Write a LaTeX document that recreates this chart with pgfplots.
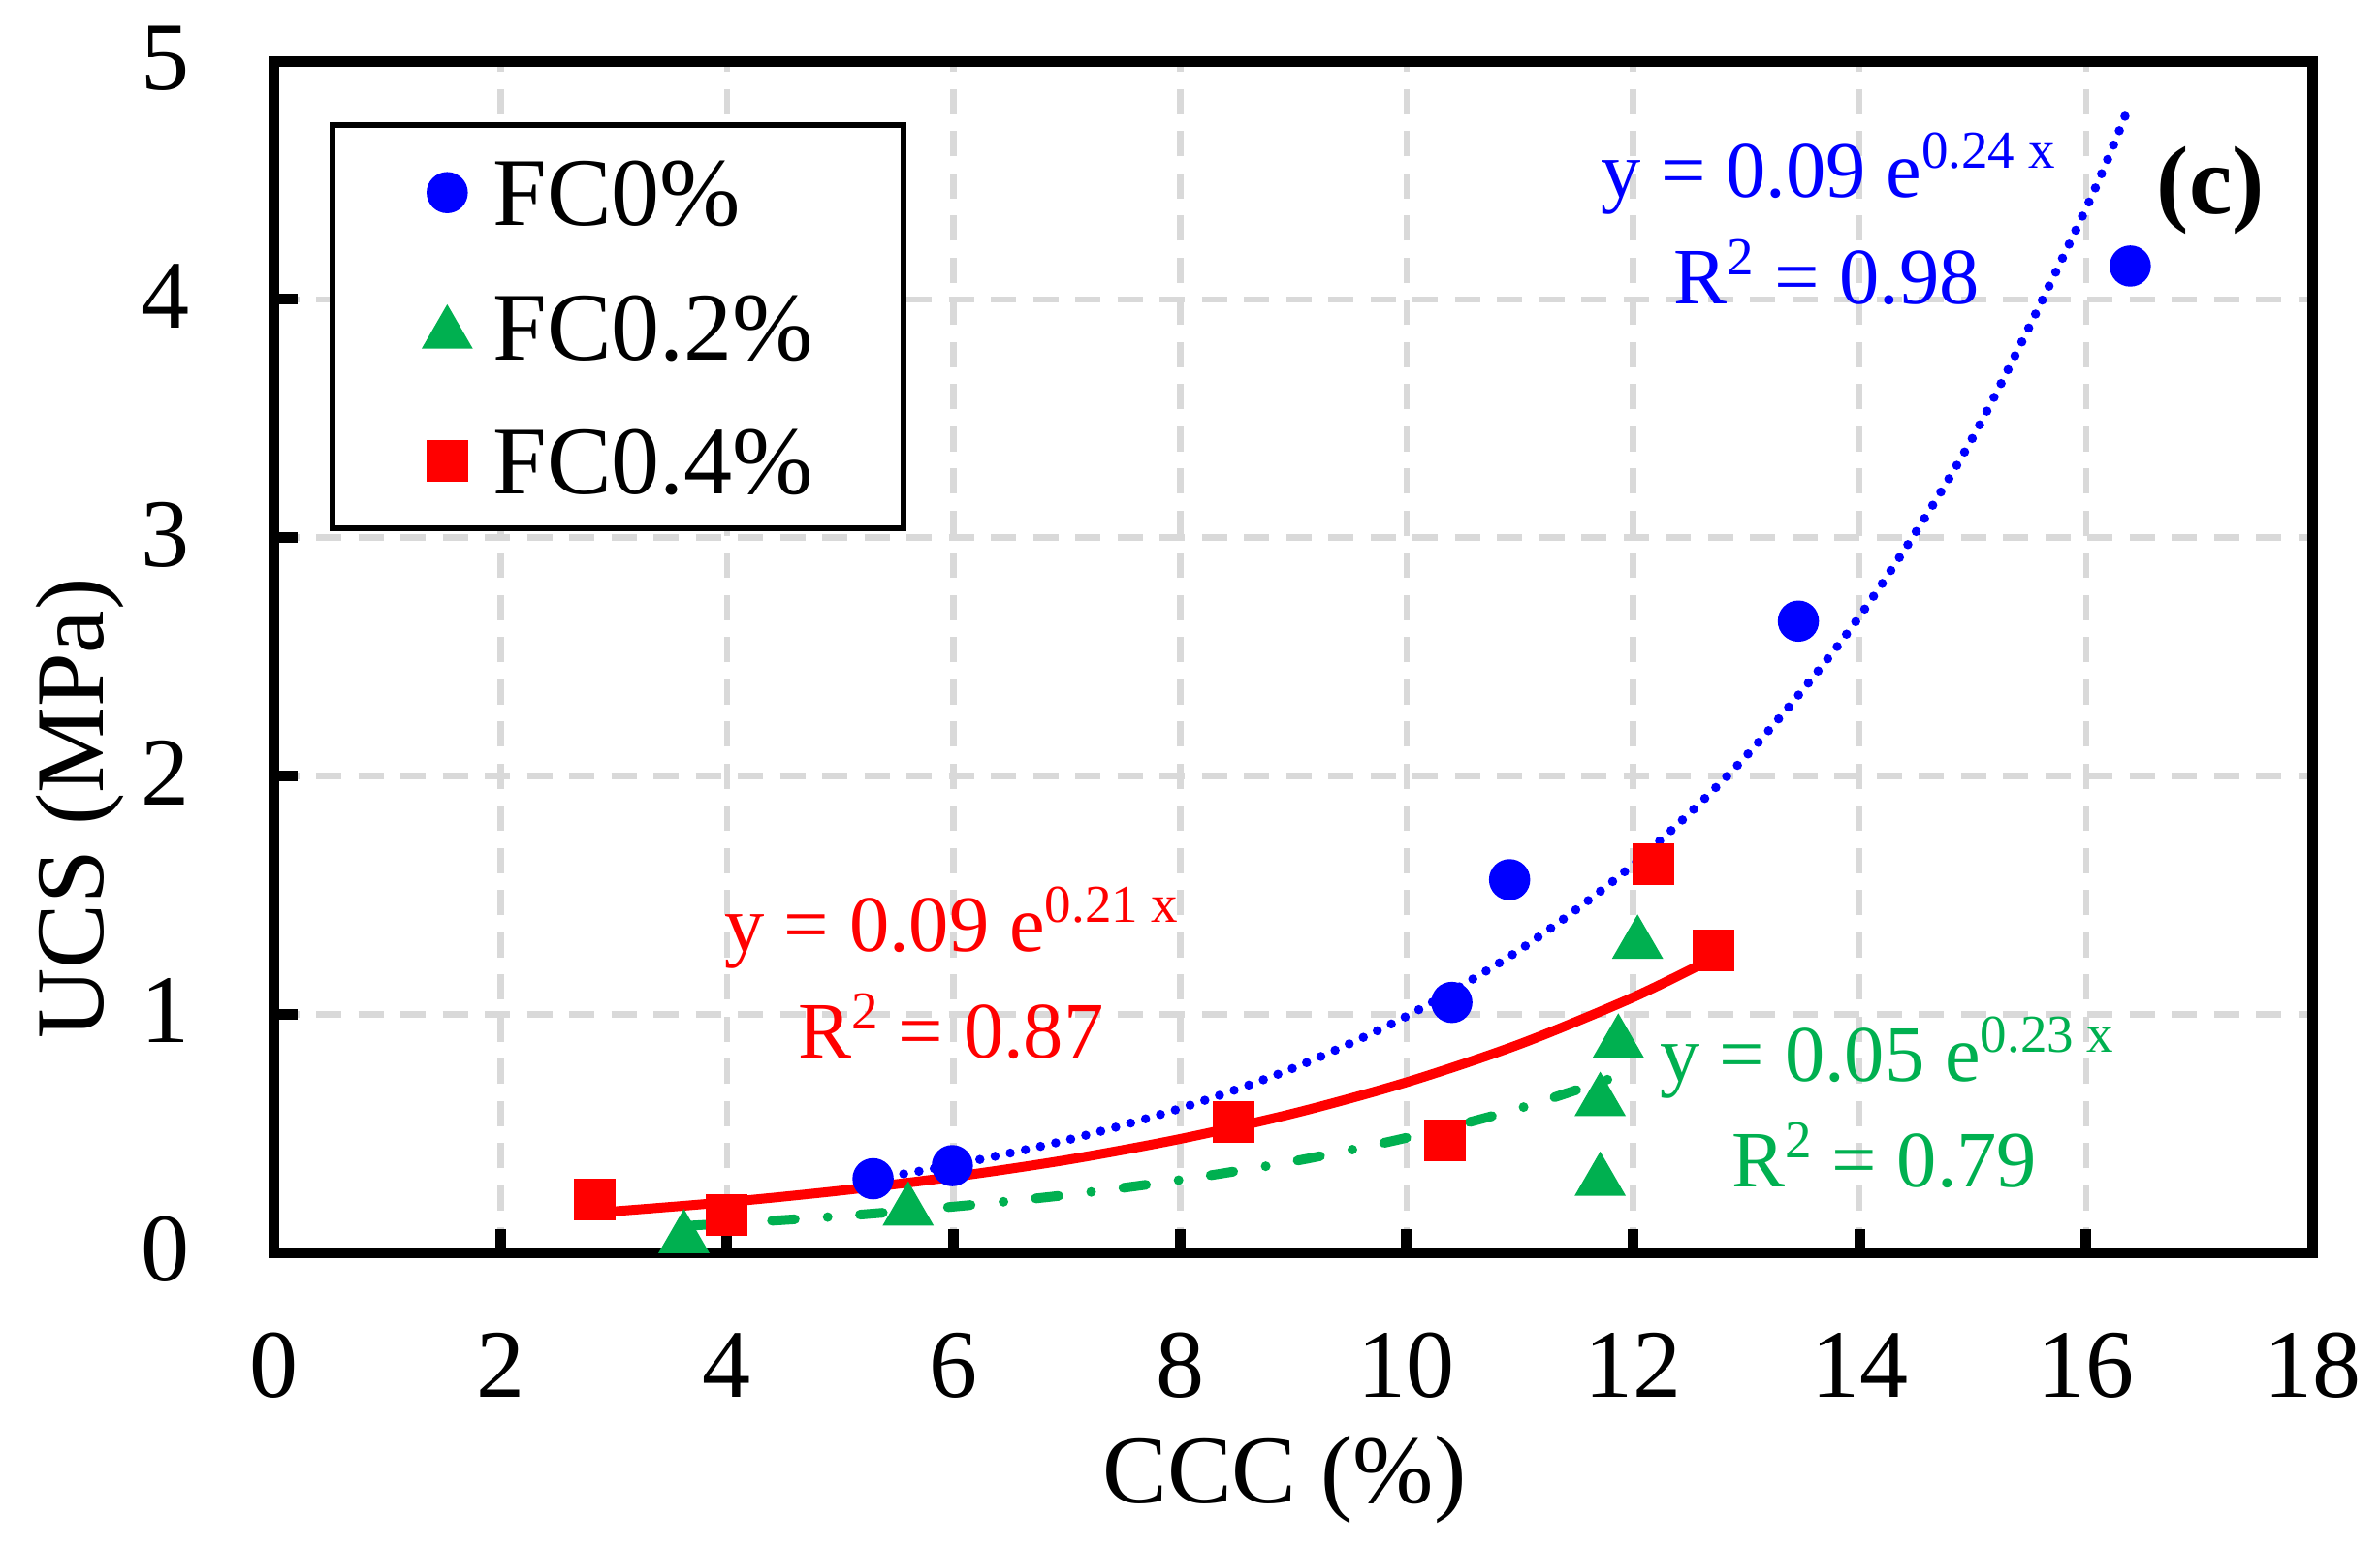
\documentclass[border=0pt]{standalone}
\usepackage{fontspec}
\setmainfont{Liberation Serif}
\usepackage{pgfplots}
\pgfplotsset{compat=1.18}
\definecolor{myblue}{RGB}{0,0,255}
\definecolor{mygreen}{RGB}{0,176,80}
\definecolor{myred}{RGB}{255,0,0}
\definecolor{mygrid}{RGB}{217,217,217}
\newcommand{\supx}[1]{\raisebox{6pt}{\fontsize{11}{12}\selectfont #1}}
\begin{document}
\begin{tikzpicture}
\begin{axis}[
  at={(0,0)}, anchor=south west,
  scale only axis, width=420.5pt, height=245.8pt,
  xmin=0, xmax=18, ymin=0, ymax=5,
  xtick={0,2,...,18}, ytick={0,1,...,5},
  tick pos=left, tick align=inside,
  major tick length=4.9pt,
  tick style={black, line width=2.2pt},
  axis line style={black, line width=2.2pt},
  grid=major,
  major grid style={mygrid, line width=1.33pt, dash pattern=on 5.2pt off 3.5pt},
  /pgf/number format/assume math mode=true,
  tick label style={font=\fontsize{20}{24}\selectfont, inner sep=0pt},
  xticklabel style={anchor=base, yshift=-29.8pt},
  yticklabel style={anchor=base east, xshift=-17.2pt, yshift=-5.9pt},
  xlabel={CCC (\%)}, ylabel={UCS (MPa)},
  label style={font=\fontsize{20}{24}\selectfont, inner sep=0pt},
  xlabel style={at={(axis description cs:0.4957,-0.2103)}, anchor=base},
  ylabel style={at={(axis description cs:-0.08395,0.373)}, anchor=base},
  clip=false,
  legend style={at={(axis description cs:0,1)}, anchor=north west, xshift=11.5pt, yshift=-12.6pt,
    draw=black, line width=1.25pt, inner xsep=18.6pt, inner ysep=7.1pt, row sep=14.1pt, column sep=4.4pt,
    font=\fontsize{20}{24}\selectfont, nodes={inner sep=0pt, text height=13.6pt, text depth=0pt}},
  legend cell align=left,
  legend image code/.code={\draw[#1] plot coordinates {(0pt,0pt)};},
]
\addplot[myblue, only marks, mark=*, mark size=4.1pt, mark options={solid, line width=0.3pt, fill=myblue, draw=myblue}] coordinates {
(5.29,0.31) (5.99,0.365) (10.40,1.05) (10.91,1.565) (13.46,2.65) (16.39,4.14)};
\addlegendentry{FC0\%}
\addplot[mygreen, only marks, mark=triangle*, mark size=5.8pt, mark options={solid, line width=0.3pt, fill=mygreen, draw=mygreen, yshift=-1.45pt}] coordinates {
(3.62,0.089) (5.60,0.205) (11.71,0.33) (11.71,0.665) (11.87,0.91) (12.04,1.325)};
\addlegendentry{FC0.2\%}
\addplot[myred, only marks, mark=square*, mark size=4.15pt, mark options={solid, line width=0.3pt, fill=myred, draw=myred}] coordinates {
(2.83,0.223) (4.00,0.159) (8.47,0.55) (10.34,0.47) (12.18,1.63) (12.71,1.27)};
\addlegendentry{FC0.4\%}
% trendlines
\addplot[forget plot, myblue, line width=1.9pt, line cap=round, dash pattern=on 0pt off 3.2pt, smooth] coordinates {
(5.29,0.309) (6,0.368) (7,0.472) (8,0.605) (9,0.774) (10,0.992) (11,1.271) (12,1.628) (13,2.085) (14,2.670) (15,3.421) (16,4.382) (16.39,4.826)};
\addplot[forget plot, myred, line width=2pt, smooth] coordinates {
(2.83,0.167) (3,0.173) (4,0.212) (5,0.260) (6,0.318) (7,0.389) (8,0.477) (9,0.584) (10,0.715) (11,0.875) (12,1.071) (12.71,1.236)};
\addplot[forget plot, mygreen, line width=2pt, line cap=round, dash pattern=on 4.7pt off 6.8pt on 0pt off 6.7pt, smooth] coordinates {
(3.62,0.112) (4,0.122) (5,0.153) (6,0.193) (7,0.242) (8,0.305) (9,0.383) (10,0.482) (11,0.606) (12.04,0.769)};
% annotations
\node[anchor=base, text=myblue, font=\fontsize{16.5}{18}\selectfont, inner sep=0pt] at (axis cs:13.72,4.43) {y = 0.09 e\supx{0.24 x}};
\node[anchor=base, text=myblue, font=\fontsize{16.5}{18}\selectfont, inner sep=0pt] at (axis cs:13.71,3.98) {R\supx{2} = 0.98};
\node[anchor=base, text=myred, font=\fontsize{16.5}{18}\selectfont, inner sep=0pt] at (axis cs:5.98,1.264) {y = 0.09 e\supx{0.21 x}};
\node[anchor=base, text=myred, font=\fontsize{16.5}{18}\selectfont, inner sep=0pt] at (axis cs:5.98,0.818) {R\supx{2} = 0.87};
\node[anchor=base, text=mygreen, font=\fontsize{16.5}{18}\selectfont, inner sep=0pt] at (axis cs:14.24,0.719) {y = 0.05 e\supx{0.23 x}};
\node[anchor=base, text=mygreen, font=\fontsize{16.5}{18}\selectfont, inner sep=0pt] at (axis cs:14.22,0.275) {R\supx{2} = 0.79};
\node[anchor=center, font=\fontsize{20}{24}\selectfont\bfseries, inner sep=0pt] at (axis cs:17.10,4.457) {(c)};
\end{axis}
\pgfresetboundingbox
\path (-56.5pt,-60.9pt) rectangle (434.4pt,258.4pt);
\end{tikzpicture}
\end{document}
